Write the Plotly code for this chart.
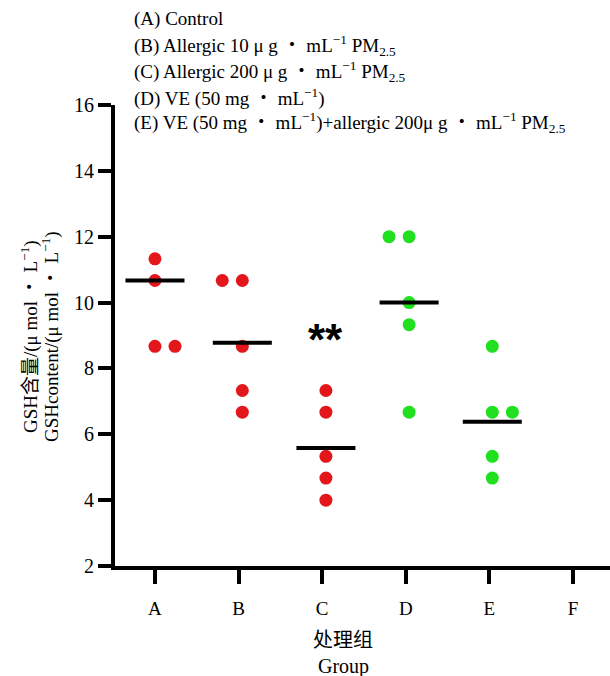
import plotly.graph_objects as go

# ---- data ----
categories = ["A", "B", "C", "D", "E", "F"]
groups = ["A", "B", "C", "D", "E"]
gsh_A = [11.33, 10.67, 8.67, 8.67]
gsh_B = [10.67, 10.67, 8.67, 7.33, 6.67]
gsh_C = [7.33, 6.67, 5.33, 4.67, 4.00]
gsh_D = [12.00, 12.00, 10.00, 9.33, 6.67]
gsh_E = [8.67, 6.67, 6.67, 5.33, 4.67]
group_means = [10.67, 8.78, 5.58, 10.00, 6.38]
y_ticks = [2, 4, 6, 8, 10, 12, 14, 16]
significance = {"C": "**"}

legend_lines = [
    "(A) Control",
    "(B) Allergic 10 μ g ・ mL<sup>−1</sup> PM<sub>2.5</sub>",
    "(C) Allergic 200 μ g ・ mL<sup>−1</sup> PM<sub>2.5</sub>",
    "(D) VE (50 mg ・ mL<sup>−1</sup>)",
    "(E) VE (50 mg ・ mL<sup>−1</sup>)+allergic 200μ g ・ mL<sup>−1</sup> PM<sub>2.5</sub>",
]

# ---- styling / layout (not data) ----
RED = "#E3161C"
GREEN = "#20E020"
group_colors = [RED, RED, RED, GREEN, GREEN]
column_shift = [0.0, 0.045, 0.045, 0.04, 0.035]
jitter = [
    [0, 0, 0, 0.24],
    [-0.24, 0, 0, 0, 0],
    [0, 0, 0, 0, 0],
    [-0.24, 0, 0, 0, 0],
    [0, 0, 0.24, 0, 0],
]
half_len = 0.353
SERIF = "Liberation Serif, Times New Roman, Noto Sans CJK SC, serif"

all_values = [gsh_A, gsh_B, gsh_C, gsh_D, gsh_E]
cat_index = {c: i for i, c in enumerate(categories)}

fig = go.Figure()

for gi, (g, vals) in enumerate(zip(groups, all_values)):
    base = cat_index[g] + column_shift[gi]
    xs = [base + j for j in jitter[gi]]
    fig.add_trace(go.Scatter(
        x=xs, y=vals, mode="markers",
        marker=dict(size=13, color=group_colors[gi], line=dict(width=0)),
        showlegend=False, hoverinfo="y",
    ))

# mean lines
mx, my = [], []
for gi, g in enumerate(groups):
    base = cat_index[g] + column_shift[gi]
    mx += [base - half_len, base + half_len, None]
    my += [group_means[gi], group_means[gi], None]
fig.add_trace(go.Scatter(x=mx, y=my, mode="lines",
                         line=dict(color="black", width=4),
                         showlegend=False, hoverinfo="skip"))

annotations = []
# significance stars
for g, txt in significance.items():
    gi = groups.index(g)
    annotations.append(dict(
        x=cat_index[g] + column_shift[gi], y=8.87, xref="x", yref="y",
        text="<b>" + txt + "</b>", showarrow=False,
        font=dict(family="Liberation Sans, Arial, sans-serif", size=44, color="black"),
        xanchor="center", yanchor="middle"))

# legend lines at top
legend_y_px = [19, 45, 71, 97, 123]
for txt, ypx in zip(legend_lines, legend_y_px):
    annotations.append(dict(
        x=132, y=1 - ypx / 676, xref="paper", yref="paper",
        text=txt, showarrow=False, xanchor="left", yanchor="middle",
        font=dict(family=SERIF, size=19, color="black")))

# y-axis title (two lines)
ytitle = ["GSH含量/(μ mol ・ L<sup>−1</sup>)", "GSHcontent/(μ mol ・ L<sup>−1</sup>)"]
for txt, xpx in zip(ytitle, [29, 50]):
    annotations.append(dict(
        x=xpx, y=1 - 337 / 676, xref="paper", yref="paper",
        text=txt, showarrow=False, textangle=-90,
        xanchor="center", yanchor="middle",
        font=dict(family=SERIF, size=19, color="black")))

# x-axis title (two lines)
for txt, ypx in zip(["处理组", "Group"], [640, 666]):
    annotations.append(dict(
        x=343, y=1 - ypx / 676, xref="paper", yref="paper",
        text=txt, showarrow=False, xanchor="center", yanchor="middle",
        font=dict(family=SERIF, size=20, color="black")))

# convert pixel-based paper annotations
W, H = 610, 676
L, R, T, B = 115, 0, 105, 110
pw, ph = W - L - R, H - T - B
for a in annotations:
    if a["xref"] == "paper":
        a["x"] = (a["x"] - L) / pw
        ypx = (1 - a["y"]) * H
        a["y"] = (H - B - ypx) / ph

fig.update_layout(
    width=W, height=H,
    margin=dict(l=L, r=R, t=T, b=B, pad=0),
    paper_bgcolor="white", plot_bgcolor="white",
    annotations=annotations,
    xaxis=dict(
        range=[-0.478, 5.443], tickmode="array",
        tickvals=list(range(len(categories))), ticktext=categories,
        showline=True, linecolor="black", linewidth=4,
        ticks="outside", ticklen=14, tickwidth=4, tickcolor="black",
        showgrid=False, zeroline=False, ticklabelstandoff=8,
        tickfont=dict(family=SERIF, size=19, color="black"),
    ),
    yaxis=dict(
        range=[2, 16], tickmode="array", tickvals=y_ticks,
        showline=True, linecolor="black", linewidth=4,
        ticks="outside", ticklen=13, tickwidth=4, tickcolor="black",
        showgrid=False, zeroline=False,
        tickfont=dict(family=SERIF, size=20, color="black"),
    ),
)

fig.write_html("out.html", config={"displayModeBar": False},
               post_script="document.body.style.margin='0';document.body.style.overflow='hidden';")
